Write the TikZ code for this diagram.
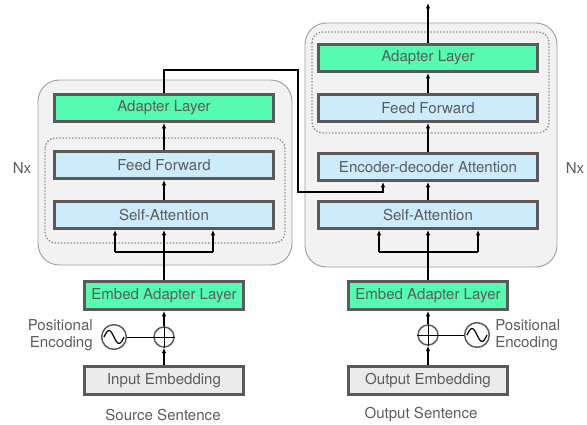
\documentclass[tikz,border=0pt]{standalone}
\usepackage{fontspec}
\setmainfont{TeX Gyre Heros}
\usetikzlibrary{arrows.meta}
\definecolor{adaptergreen}{HTML}{55FBB0}
\definecolor{layerblue}{HTML}{CCEBFB}
\definecolor{embgray}{HTML}{EBEBEB}
\definecolor{boxedge}{HTML}{5A5A5A}
\definecolor{labelgray}{HTML}{5C5C5C}
\definecolor{stackfill}{HTML}{F2F2F2}
\definecolor{stackedge}{HTML}{A0A0A0}
\tikzstyle{layerbox}=[
        draw=boxedge,
        line width=2.25pt,
        minimum width=164pt,
        minimum height=20.25pt,
        text=labelgray,
        font=\fontsize{11.3}{13}\selectfont
]
\tikzstyle{adapterbox}=[layerbox, fill=adaptergreen]
\tikzstyle{sublayerbox}=[layerbox, fill=layerblue]
\tikzstyle{embedbox}=[layerbox, fill=adaptergreen, minimum width=119pt, minimum height=21pt]
\tikzstyle{inputbox}=[layerbox, fill=embgray, minimum width=119pt, minimum height=21pt]
\tikzstyle{stackbox}=[draw=stackedge, fill=stackfill, line width=0.7pt, rounded corners=16pt]
\tikzstyle{groupbox}=[draw=stackedge!90!black, line width=1pt, dash pattern=on 1.1pt off 1.3pt, rounded corners=8pt]
\tikzstyle{flowarrow}=[-{Latex[length=4pt,width=3.4pt]}, line width=0.9pt]
\tikzstyle{labeltext}=[text=labelgray, inner sep=0pt, font=\fontsize{11.3}{12.75}\selectfont]
\tikzstyle{sumnode}=[circle, draw=boxedge, line width=1.1pt, minimum size=15pt, inner sep=0pt]
\tikzstyle{sinenode}=[circle, draw=boxedge, line width=1.1pt, minimum size=18.5pt, inner sep=0pt]

\begin{document}
\begin{tikzpicture}[x=0.75pt,y=-0.75pt]
                    \useasboundingbox (0,0) rectangle (587,425);

                    \draw[stackbox] (38,80) rectangle (292,265);
                    \draw[stackbox] (305,23) rectangle (557,267);
                    \draw[groupbox] (45,138) rectangle (285,243);
                    \draw[groupbox] (312,32) rectangle (549,133);

                    % encoder side
                    \node[adapterbox] (encAdapter) at (164,108) {Adapter Layer};
                    \node[sublayerbox] (encFF) at (164,165) {Feed Forward};
                    \node[sublayerbox] (encSA) at (164,215) {Self-Attention};
                    \node[embedbox] (encEmbed) at (164,295.5) {Embed Adapter Layer};
                    \node[sumnode] (encSum) at (164,337) {};
                    \node[sinenode] (encSine) at (114,337) {};
                    \node[inputbox] (encInput) at (164,380.5) {Input Embedding};

                    \node[labeltext] (encNx) at (22,168) {Nx};
                    \node[labeltext, align=right, anchor=east] (encPos) at (93,335.5) {Positional\\Encoding};
                    \node[labeltext] (encSrc) at (163,415) {Source Sentence};

                    % decoder side
                    \node[adapterbox] (decAdapter) at (428,58) {Adapter Layer};
                    \node[sublayerbox] (decFF) at (428,108) {Feed Forward};
                    \node[sublayerbox] (decEDA) at (428,167) {Encoder-decoder Attention};
                    \node[sublayerbox] (decSA) at (428,215) {Self-Attention};
                    \node[embedbox] (decEmbed) at (428,295.5) {Embed Adapter Layer};
                    \node[sumnode] (decSum) at (428,335) {};
                    \node[sinenode] (decSine) at (477,335) {};
                    \node[inputbox] (decInput) at (428,380.5) {Output Embedding};

                    \node[labeltext] (decNx) at (575,168) {Nx};
                    \node[labeltext, align=left, anchor=west] (decPos) at (495,335) {Positional\\Encoding};
                    \node[labeltext] (decSrc) at (421,415) {Output Sentence};

                    \coordinate (encL) at (115,252);
                    \coordinate (encR) at (213,252);
                    \coordinate (decL) at (379,252);
                    \coordinate (decR) at (478,252);
                    \coordinate (crossTop) at (298,70);
                    \coordinate (crossLow) at (383,192);
                    \coordinate (decOut) at (428,3);

                    \foreach \s in {enc,dec} {
                        \draw (\s Sum.north) -- (\s Sum.south);
                        \draw (\s Sum.west) -- (\s Sum.east);
                        \draw (\s Sine) -- (\s Sum);
                        \draw[line width=0.9pt] (\s Sine.center) ++(-10,0) sin ++(5,-6.5) cos ++(5,6.5) sin ++(5,6.5) cos ++(5,-6.5);
                        \draw[flowarrow] (\s Input.north) -- (\s Sum.south);
                        \draw[flowarrow] (\s Sum.north) -- (\s Embed.south);
                        \draw[flowarrow] (\s Embed.north) -- (\s SA.south);
                        \draw[line width=0.9pt] (\s L) -- (\s R);
                        \draw[flowarrow] (\s L) -- (\s L |- \s SA.south);
                        \draw[flowarrow] (\s R) -- (\s R |- \s SA.south);
                    }

                    \draw[flowarrow] (encSA.north) -- (encFF.south);
                    \draw[flowarrow] (encFF.north) -- (encAdapter.south);

                    \draw[flowarrow] (decSA.north) -- (decEDA.south -| decSA.north);
                    \draw[flowarrow] (decEDA.north) -- (decFF.south);
                    \draw[flowarrow] (decFF.north) -- (decAdapter.south);
                    \draw[flowarrow] (decAdapter.north) -- (decOut);

                    \draw[flowarrow] (encAdapter.north) |- (crossTop) |- (crossLow) -- (crossLow |- decEDA.south);

                \end{tikzpicture}
\end{document}
